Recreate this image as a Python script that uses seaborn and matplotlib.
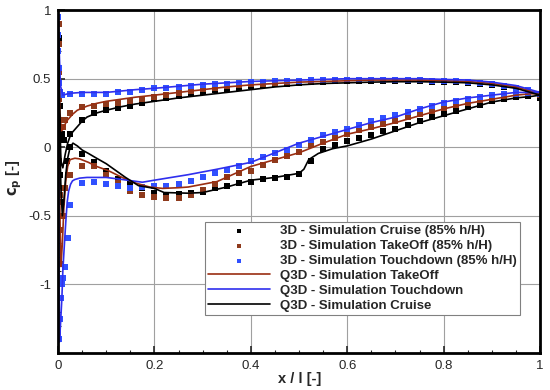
import matplotlib
matplotlib.use('Agg')
import matplotlib.pyplot as plt
import seaborn as sns
from matplotlib.ticker import MultipleLocator

# ---- Q3D lines (LE -> TE for each surface) ----
td_up_x = [0.0, 0.002, 0.005, 0.01, 0.02, 0.03, 0.05, 0.08, 0.1, 0.13, 0.16, 0.2, 0.25, 0.3, 0.35, 0.4, 0.45, 0.5, 0.55, 0.6, 0.65, 0.7, 0.75, 0.8, 0.85, 0.9, 0.95, 0.98, 1.0]
td_up_cp = [1.0, 0.75, 0.45, 0.38, 0.39, 0.395, 0.40, 0.40, 0.40, 0.41, 0.42, 0.43, 0.445, 0.46, 0.47, 0.48, 0.485, 0.49, 0.495, 0.50, 0.50, 0.50, 0.50, 0.495, 0.49, 0.475, 0.45, 0.42, 0.40]
td_lo_x = [0.0, 0.001, 0.002, 0.003, 0.005, 0.008, 0.01, 0.013, 0.016, 0.019, 0.022, 0.026, 0.03, 0.035, 0.045, 0.06, 0.1, 0.133, 0.175, 0.2, 0.27, 0.33, 0.4, 0.45, 0.5, 0.55, 0.6, 0.65, 0.7, 0.75, 0.8, 0.85, 0.9, 0.95, 0.98, 1.0]
td_lo_cp = [1.0, 0.2, -0.8, -1.42, -1.3, -1.1, -0.9, -0.72, -0.55, -0.4, -0.32, -0.27, -0.245, -0.235, -0.225, -0.22, -0.22, -0.235, -0.255, -0.24, -0.20, -0.16, -0.11, -0.04, 0.03, 0.08, 0.13, 0.18, 0.22, 0.28, 0.33, 0.36, 0.38, 0.40, 0.40, 0.40]

to_up_x = [0.0, 0.002, 0.004, 0.007, 0.01, 0.015, 0.02, 0.03, 0.04, 0.06, 0.08, 0.1, 0.13, 0.16, 0.2, 0.25, 0.3, 0.35, 0.4, 0.45, 0.5, 0.55, 0.6, 0.65, 0.7, 0.75, 0.8, 0.85, 0.9, 0.95, 0.98, 1.0]
to_up_cp = [0.95, 0.6, 0.25, 0.12, 0.13, 0.17, 0.2, 0.24, 0.27, 0.30, 0.32, 0.335, 0.35, 0.365, 0.38, 0.40, 0.42, 0.44, 0.455, 0.465, 0.475, 0.48, 0.485, 0.49, 0.49, 0.49, 0.485, 0.48, 0.465, 0.44, 0.41, 0.39]
to_lo_x = [0.0, 0.002, 0.004, 0.006, 0.009, 0.012, 0.016, 0.02, 0.025, 0.035, 0.045, 0.063, 0.08, 0.104, 0.133, 0.16, 0.19, 0.217, 0.25, 0.27, 0.3, 0.33, 0.4, 0.45, 0.5, 0.55, 0.6, 0.65, 0.7, 0.75, 0.8, 0.85, 0.9, 0.95, 0.98, 1.0]
to_lo_cp = [0.95, 0.3, -0.5, -0.87, -0.7, -0.45, -0.25, -0.14, -0.09, -0.08, -0.085, -0.11, -0.14, -0.17, -0.22, -0.26, -0.29, -0.30, -0.295, -0.29, -0.27, -0.25, -0.14, -0.09, -0.04, 0.03, 0.095, 0.135, 0.18, 0.23, 0.28, 0.32, 0.35, 0.38, 0.39, 0.39]

cr_up_x = [0.0, 0.003, 0.006, 0.01, 0.015, 0.02, 0.025, 0.03, 0.04, 0.05, 0.06, 0.08, 0.1, 0.13, 0.16, 0.2, 0.25, 0.3, 0.35, 0.4, 0.45, 0.5, 0.55, 0.6, 0.65, 0.7, 0.75, 0.8, 0.85, 0.9, 0.95, 0.98, 1.0]
cr_up_cp = [0.95, 0.3, -0.1, -0.15, -0.05, 0.03, 0.08, 0.11, 0.15, 0.19, 0.22, 0.25, 0.27, 0.295, 0.315, 0.335, 0.36, 0.38, 0.40, 0.42, 0.44, 0.455, 0.465, 0.47, 0.475, 0.478, 0.478, 0.475, 0.47, 0.455, 0.43, 0.40, 0.38]
cr_lo_x = [0.0, 0.003, 0.006, 0.009, 0.012, 0.016, 0.02, 0.025, 0.031, 0.04, 0.05, 0.063, 0.08, 0.1, 0.12, 0.14, 0.167, 0.2, 0.22, 0.27, 0.3, 0.35, 0.4, 0.45, 0.5, 0.51, 0.52, 0.54, 0.57, 0.6, 0.65, 0.7, 0.75, 0.8, 0.85, 0.9, 0.95, 0.98, 1.0]
cr_lo_cp = [0.95, 0.2, -0.3, -0.5, -0.4, -0.2, -0.08, 0.0, 0.03, 0.01, -0.02, -0.045, -0.08, -0.12, -0.17, -0.22, -0.28, -0.30, -0.33, -0.335, -0.33, -0.29, -0.24, -0.22, -0.19, -0.16, -0.09, -0.045, -0.01, 0.01, 0.06, 0.12, 0.18, 0.23, 0.28, 0.33, 0.36, 0.37, 0.38]

# ---- 3D markers ----
mk_x = [0.025, 0.05, 0.075, 0.1, 0.125, 0.15, 0.175, 0.2, 0.225, 0.25, 0.275, 0.3, 0.325, 0.35, 0.375, 0.4, 0.425, 0.45, 0.475, 0.5,
        0.525, 0.55, 0.575, 0.6, 0.625, 0.65, 0.675, 0.7, 0.725, 0.75, 0.775, 0.8, 0.825, 0.85, 0.875, 0.9, 0.925, 0.95, 0.975, 1.0]

cr_mk_up = [0.10, 0.20, 0.25, 0.27, 0.285, 0.30, 0.325, 0.35, 0.36, 0.375, 0.395, 0.405, 0.415, 0.425, 0.435, 0.445, 0.455, 0.46, 0.465, 0.47,
            0.475, 0.478, 0.48, 0.48, 0.482, 0.482, 0.482, 0.482, 0.48, 0.48, 0.478, 0.476, 0.473, 0.47, 0.465, 0.455, 0.44, 0.425, 0.405, 0.37]
cr_mk_lo = [0.0, -0.05, -0.11, -0.17, -0.23, -0.27, -0.30, -0.33, -0.35, -0.34, -0.33, -0.325, -0.30, -0.28, -0.26, -0.25, -0.23, -0.225, -0.215, -0.195,
            -0.10, -0.015, 0.02, 0.045, 0.065, 0.09, 0.115, 0.135, 0.16, 0.19, 0.22, 0.24, 0.265, 0.29, 0.31, 0.34, 0.355, 0.37, 0.375, 0.36]
cr_le_x = [0.002, 0.003, 0.005, 0.008, 0.012, 0.005, 0.008, 0.012, 0.018]
cr_le_cp = [0.8, 0.55, 0.3, 0.1, 0.05, -0.2, -0.4, -0.3, -0.1]

to_mk_up = [0.25, 0.29, 0.30, 0.315, 0.325, 0.34, 0.355, 0.37, 0.38, 0.395, 0.41, 0.425, 0.435, 0.445, 0.455, 0.46, 0.465, 0.47, 0.475, 0.48,
            0.483, 0.485, 0.487, 0.488, 0.49, 0.49, 0.49, 0.49, 0.488, 0.487, 0.485, 0.483, 0.48, 0.476, 0.47, 0.46, 0.447, 0.43, 0.41, 0.38]
to_mk_lo = [-0.20, -0.14, -0.14, -0.20, -0.26, -0.32, -0.345, -0.36, -0.37, -0.37, -0.35, -0.31, -0.27, -0.22, -0.19, -0.17, -0.13, -0.095, -0.065, -0.035,
            0.015, 0.036, 0.065, 0.10, 0.125, 0.15, 0.17, 0.195, 0.22, 0.24, 0.265, 0.285, 0.305, 0.325, 0.345, 0.36, 0.375, 0.385, 0.39, 0.38]
to_le_x = [0.001, 0.001, 0.002, 0.003, 0.005, 0.01, 0.015, 0.003, 0.004, 0.005, 0.007, 0.01, 0.015, 0.02]
to_le_cp = [0.9, 0.75, 0.55, 0.35, 0.2, 0.15, 0.2, -0.1, -0.35, -0.6, -0.85, -0.5, -0.3, -0.2]

td_mk_up = [0.385, 0.39, 0.39, 0.39, 0.40, 0.40, 0.42, 0.43, 0.435, 0.44, 0.45, 0.455, 0.46, 0.465, 0.47, 0.475, 0.478, 0.48, 0.483, 0.486,
            0.488, 0.49, 0.49, 0.492, 0.492, 0.492, 0.492, 0.49, 0.49, 0.488, 0.486, 0.484, 0.48, 0.476, 0.47, 0.462, 0.45, 0.435, 0.415, 0.39]
td_mk_lo = [-0.42, -0.26, -0.25, -0.27, -0.28, -0.30, -0.29, -0.285, -0.28, -0.265, -0.245, -0.22, -0.19, -0.165, -0.14, -0.10, -0.07, -0.045, -0.02, 0.015,
            0.05, 0.09, 0.11, 0.135, 0.165, 0.19, 0.21, 0.235, 0.255, 0.28, 0.30, 0.32, 0.34, 0.355, 0.37, 0.38, 0.39, 0.39, 0.395, 0.39]
td_le_x = [0.0, 0.0, 0.0, 0.001, 0.002, 0.004, 0.008, 0.003, 0.004, 0.006, 0.008, 0.011, 0.015, 0.02]
td_le_cp = [0.95, 0.82, 0.7, 0.58, 0.47, 0.4, 0.38, -1.4, -1.25, -1.1, -1.0, -0.95, -0.87, -0.66]

c_black = '#000000'
c_brown = '#9a2e12'
c_blue = '#2f2fee'
c_brown_mk = '#8e3a1c'
c_blue_mk = '#3050ff'

sns.set_style('ticks')
plt.rcParams['font.family'] = ['Liberation Sans', 'DejaVu Sans']
plt.rcParams['axes.unicode_minus'] = False

fig = plt.figure(figsize=(5.5, 3.9), dpi=100)
ax = fig.add_axes([0.1055, 0.095, 0.8765, 0.879])


def loop(up_x, up_cp, lo_x, lo_cp):
    # trailing edge -> leading edge along one side, back along the other
    return up_x[::-1] + lo_x[1:], up_cp[::-1] + lo_cp[1:]


# 3D markers
for mx, up, lo, lx, lc, col, lab in [
        (mk_x, cr_mk_up, cr_mk_lo, cr_le_x, cr_le_cp, c_black, '3D - Simulation Cruise (85% h/H)'),
        (mk_x, to_mk_up, to_mk_lo, to_le_x, to_le_cp, c_brown_mk, '3D - Simulation TakeOff (85% h/H)'),
        (mk_x, td_mk_up, td_mk_lo, td_le_x, td_le_cp, c_blue_mk, '3D - Simulation Touchdown (85% h/H)')]:
    sns.scatterplot(x=mx + mx + lx, y=up + lo + lc, marker='s', s=13, color=col,
                    linewidth=0, label=lab, ax=ax, zorder=3)

# Q3D lines
for up_x, up_cp, lo_x, lo_cp, col, lab in [
        (to_up_x, to_up_cp, to_lo_x, to_lo_cp, c_brown, 'Q3D - Simulation TakeOff'),
        (td_up_x, td_up_cp, td_lo_x, td_lo_cp, c_blue, 'Q3D - Simulation Touchdown'),
        (cr_up_x, cr_up_cp, cr_lo_x, cr_lo_cp, c_black, 'Q3D - Simulation Cruise')]:
    xs, ys = loop(up_x, up_cp, lo_x, lo_cp)
    sns.lineplot(x=xs, y=ys, sort=False, estimator=None, color=col, linewidth=1.2,
                 label=lab, ax=ax, zorder=4)

ax.set_xlim(0, 1)
ax.set_ylim(-1.5, 1)
ax.set_xticks([0, 0.2, 0.4, 0.6, 0.8, 1])
ax.set_xticklabels(['0', '0.2', '0.4', '0.6', '0.8', '1'])
ax.set_yticks([-1, -0.5, 0, 0.5, 1])
ax.set_yticklabels(['-1', '-0.5', '0', '0.5', '1'])
ax.xaxis.set_minor_locator(MultipleLocator(0.05))
ax.yaxis.set_minor_locator(MultipleLocator(0.1))
ax.tick_params(which='major', direction='in', length=5, width=1.2, labelsize=9.5, pad=5)
ax.tick_params(which='minor', direction='in', length=2.5, width=0.8)
ax.grid(True, which='major', color='#a0a0a0', linewidth=0.8)
ax.set_axisbelow(True)
for sp in ax.spines.values():
    sp.set_visible(True)
    sp.set_linewidth(2)
    sp.set_color('black')
    sp.set_zorder(6)

ax.set_xlabel('x / l [-]', fontsize=10.5, fontweight='bold')
ax.set_ylabel(r'$\mathbf{c_p}$ [-]', fontsize=10.5, fontweight='bold')
ax.xaxis.set_label_coords(0.502, -0.055)
ax.yaxis.set_label_coords(-0.07, 0.51)

leg = ax.legend(loc='lower right', bbox_to_anchor=(0.958, 0.111), borderaxespad=0,
                prop={'weight': 'bold', 'size': 9.5}, handlelength=4.7, markerscale=0.6,
                fancybox=False, framealpha=1, edgecolor='#808080', labelspacing=0.2,
                borderpad=0.25, handletextpad=0.75)
leg.get_frame().set_linewidth(0.8)
leg.set_zorder(7)

fig.savefig('out.png', dpi=100)
